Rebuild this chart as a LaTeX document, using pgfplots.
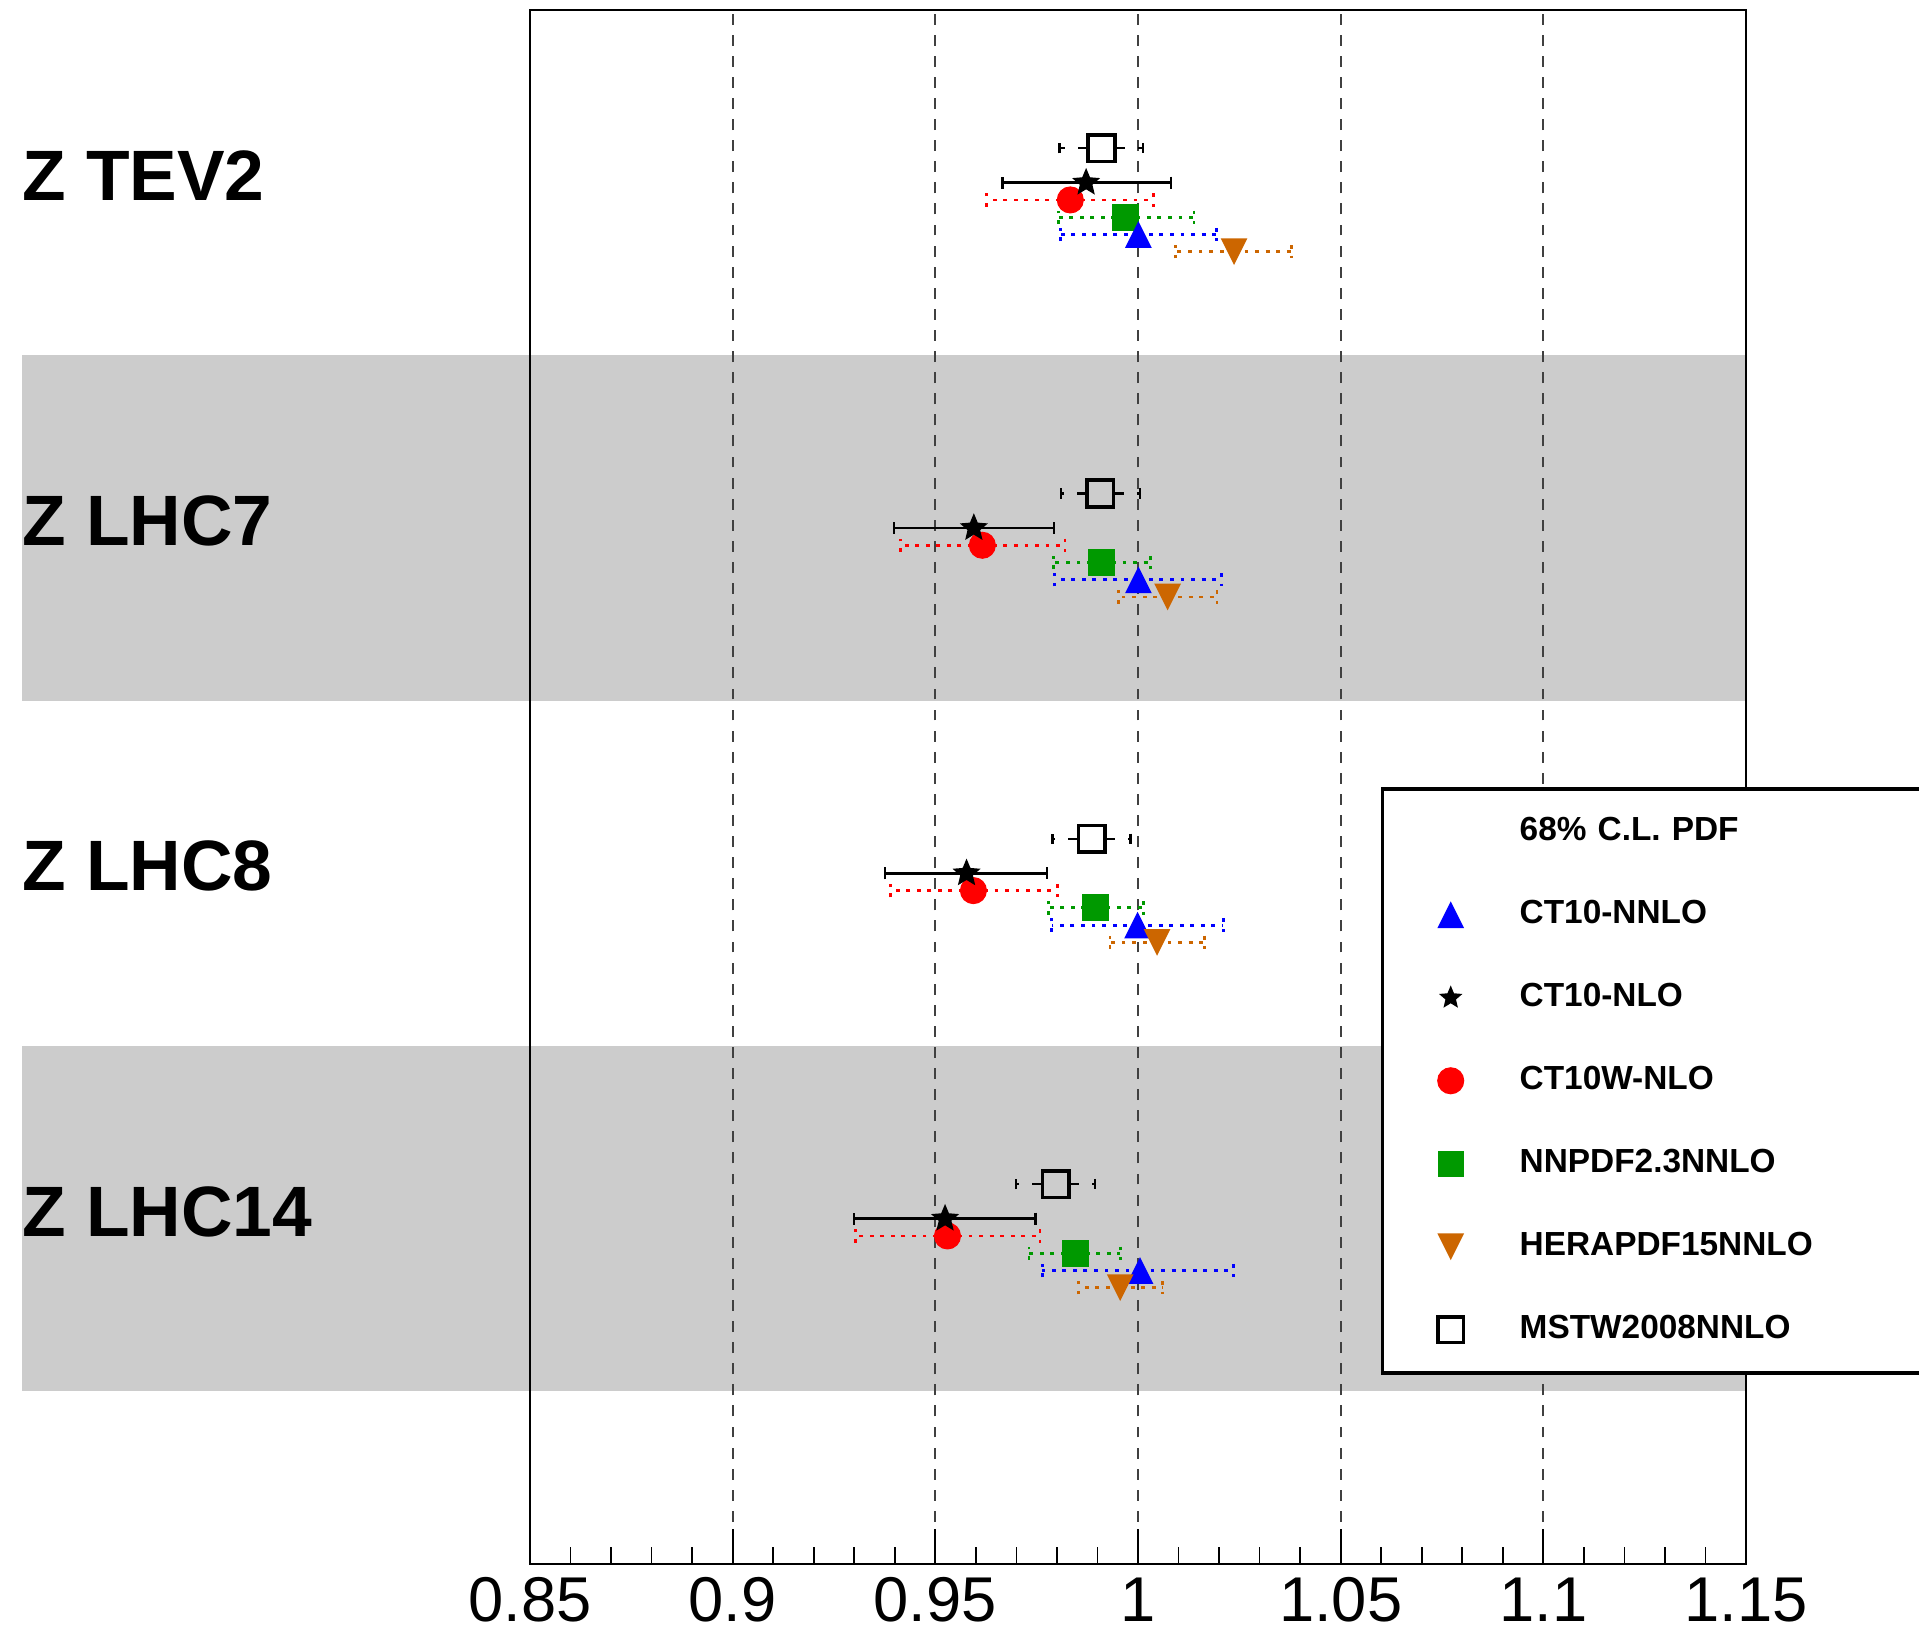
\documentclass[border=0pt]{standalone}
\usepackage{pgfplots}
\pgfplotsset{compat=1.18}
\usepackage{fontspec}
\setmainfont{Liberation Sans}
\definecolor{bandgray}{RGB}{204,204,204}
\definecolor{rgreen}{RGB}{0,153,0}
\definecolor{rorange}{RGB}{204,102,0}
\pgfdeclareplotmark{fstar}{%
  \pgfpathmoveto{\pgfqpointpolar{90}{\pgfplotmarksize}}%
  \pgfpathlineto{\pgfqpointpolar{126}{0.45\pgfplotmarksize}}%
  \pgfpathlineto{\pgfqpointpolar{162}{\pgfplotmarksize}}%
  \pgfpathlineto{\pgfqpointpolar{198}{0.45\pgfplotmarksize}}%
  \pgfpathlineto{\pgfqpointpolar{234}{\pgfplotmarksize}}%
  \pgfpathlineto{\pgfqpointpolar{270}{0.45\pgfplotmarksize}}%
  \pgfpathlineto{\pgfqpointpolar{306}{\pgfplotmarksize}}%
  \pgfpathlineto{\pgfqpointpolar{342}{0.45\pgfplotmarksize}}%
  \pgfpathlineto{\pgfqpointpolar{18}{\pgfplotmarksize}}%
  \pgfpathlineto{\pgfqpointpolar{54}{0.45\pgfplotmarksize}}%
  \pgfpathclose\pgfusepathqfill}
\pgfdeclareplotmark{utri}{%
  \pgfpathmoveto{\pgfqpoint{0pt}{\pgfplotmarksize}}%
  \pgfpathlineto{\pgfqpoint{-\pgfplotmarksize}{-\pgfplotmarksize}}%
  \pgfpathlineto{\pgfqpoint{\pgfplotmarksize}{-\pgfplotmarksize}}%
  \pgfpathclose\pgfusepathqfill}
\pgfdeclareplotmark{dtri}{%
  \pgfpathmoveto{\pgfqpoint{0pt}{-\pgfplotmarksize}}%
  \pgfpathlineto{\pgfqpoint{-\pgfplotmarksize}{\pgfplotmarksize}}%
  \pgfpathlineto{\pgfqpoint{\pgfplotmarksize}{\pgfplotmarksize}}%
  \pgfpathclose\pgfusepathqfill}
\pgfplotsset{
  dotbars/.style={error bars/.cd, x dir=both, x explicit, error mark=|,
    error bar style={#1, solid, line width=0.8pt, dash pattern=on 1.1pt off 1.9pt},
    error mark options={#1, line width=0.8pt, dash pattern=on 1.1pt off 1.9pt, mark size=1.9pt}},
}
\begin{document}
\begin{tikzpicture}
\begin{axis}[
  at={(5.30cm,0.69cm)}, anchor=south west,
  scale only axis, width=12.16cm, height=15.54cm,
  xmin=0.85, xmax=1.15, ymin=0, ymax=4.5,
  clip=false, set layers,
  axis line style={line width=0.8pt},
  xtick={0.85,0.9,0.95,1,1.05,1.1,1.15},
  xticklabels={0.85,0.9,0.95,1,1.05,1.1,1.15},
  minor x tick num=4,
  ytick=\empty,
  xtick pos=left,
  tick align=inside,
  major tick length=0.35cm, minor tick length=0.17cm,
  every tick/.style={line width=0.5pt, black},
  xmajorgrids,
  major grid style={black!75, line width=0.6pt, dash pattern=on 3.1pt off 2.9pt},
  xticklabel style={font=\fontsize{18}{20}\selectfont, inner sep=0pt, yshift=-0.13cm, anchor=north},
  legend cell align=left,
  legend image code/.code={\path[draw=none, fill=none] (-0.3cm,-0.2cm) rectangle (0.3cm,0.2cm); \draw[#1] plot coordinates {(0cm,0cm)};},
  legend style={at={(0.6998,0.5)}, anchor=north west, draw=black, line width=1pt, fill=white,
    inner xsep=0.38cm, inner ysep=0.015cm, row sep=0pt,
    font=\bfseries\fontsize{9.5}{11}\selectfont,
    /tikz/every odd column/.append style={column sep=0.39cm},
    nodes={inner sep=0pt, minimum height=0.83cm, text width=5cm, anchor=west}},
]
\begin{pgfonlayer}{axis background}
\fill[bandgray] (axis cs:0.7247,2.5) rectangle (axis cs:1.15,3.5);
\fill[bandgray] (axis cs:0.7247,0.5) rectangle (axis cs:1.15,1.5);
\end{pgfonlayer}

\node[anchor=west, inner sep=0pt, font=\bfseries\fontsize{20.3}{22}\selectfont] at (axis cs:0.7247,4.02) {Z TEV2};
\node[anchor=west, inner sep=0pt, font=\bfseries\fontsize{20.3}{22}\selectfont] at (axis cs:0.7247,3.02) {Z LHC7};
\node[anchor=west, inner sep=0pt, font=\bfseries\fontsize{20.3}{22}\selectfont] at (axis cs:0.7247,2.02) {Z LHC8};
\node[anchor=west, inner sep=0pt, font=\bfseries\fontsize{20.3}{22}\selectfont] at (axis cs:0.7247,1.02) {Z LHC14};

% CT10W-NLO (circle)
\addplot[only marks, red, mark=*, mark size=3.7pt, mark options={solid, line width=0.3pt}, forget plot, dotbars=red]
table[x=x, y=y, x error plus=ep, x error minus=em] {
x y ep em
0.9833 3.95 0.0205 0.0206
0.9616 2.95 0.0204 0.0201
0.9594 1.95 0.0207 0.0204
0.9530 0.95 0.0228 0.0227
};
% NNPDF2.3NNLO (square)
\addplot[only marks, rgreen, mark=square*, mark size=3.7pt, mark options={solid, line width=0.3pt}, forget plot, dotbars=rgreen]
table[x=x, y=y, x error plus=ep, x error minus=em] {
x y ep em
0.9970 3.90 0.0168 0.0167
0.9910 2.90 0.0120 0.0119
0.9896 1.90 0.0117 0.0117
0.9845 0.90 0.0111 0.0114
};
% CT10-NNLO (triangle)
\addplot[only marks, blue, mark=utri, mark size=3.8pt, mark options={solid}, forget plot, dotbars=blue]
table[x=x, y=y, x error plus=ep, x error minus=em] {
x y ep em
1.0001 3.85 0.0193 0.0193
1.0001 2.85 0.0205 0.0208
0.9999 1.85 0.0211 0.0212
1.0005 0.85 0.0230 0.0241
};
% HERAPDF15NNLO (inverted triangle)
\addplot[only marks, rorange, mark=dtri, mark size=3.8pt, mark options={solid}, forget plot, dotbars=rorange]
table[x=x, y=y, x error plus=ep, x error minus=em] {
x y ep em
1.0237 3.80 0.0142 0.0144
1.0073 2.80 0.0122 0.0122
1.0047 1.80 0.0118 0.0116
0.9956 0.80 0.0105 0.0102
};
% CT10-NLO (star)
\addplot[only marks, black, mark=fstar, mark size=4.2pt, mark options={solid}, forget plot,
  error bars/.cd, x dir=both, x explicit, error mark=|,
  error bar style={black, solid, line width=0.7pt},
  error mark options={black, solid, line width=0.7pt, mark size=1.7pt}]
table[x=x, y=y, x error plus=ep, x error minus=em] {
x y ep em
0.9872 4.00 0.0209 0.0206
0.9595 3.00 0.0198 0.0197
0.9577 2.00 0.0199 0.0201
0.9524 1.00 0.0223 0.0225
};
% MSTW2008NNLO (open square), white background groups
\addplot[only marks, black, mark=square*, mark size=3.8pt, mark options={solid, fill=white, line width=1pt}, forget plot,
  error bars/.cd, x dir=both, x explicit, error mark=|,
  error bar style={black, line width=0.7pt, dash pattern=on 6.7pt off 3.7pt},
  error mark options={black, solid, line width=0.7pt, mark size=1.5pt}]
table[x=x, y=y, x error plus=ep, x error minus=em] {
x y ep em
0.9910 4.10 0.0102 0.0104
0.9886 2.10 0.0096 0.0097
};
% MSTW2008NNLO (open square), gray band groups
\addplot[only marks, black, mark=square*, mark size=3.8pt, mark options={solid, fill=bandgray, line width=1pt}, forget plot,
  error bars/.cd, x dir=both, x explicit, error mark=|,
  error bar style={black, line width=0.7pt, dash pattern=on 6.7pt off 3.7pt},
  error mark options={black, solid, line width=0.7pt, mark size=1.5pt}]
table[x=x, y=y, x error plus=ep, x error minus=em] {
x y ep em
0.9907 3.10 0.0098 0.0097
0.9797 1.10 0.0097 0.0098
};

\addlegendimage{empty legend}
\addlegendentry{68\% C.L. PDF}
\addlegendimage{only marks, blue, mark=utri, mark size=3.8pt}
\addlegendentry{CT10-NNLO}
\addlegendimage{only marks, black, mark=fstar, mark size=3.5pt}
\addlegendentry{CT10-NLO}
\addlegendimage{only marks, red, mark=*, mark size=3.7pt, mark options={line width=0.3pt}}
\addlegendentry{CT10W-NLO}
\addlegendimage{only marks, rgreen, mark=square*, mark size=3.6pt, mark options={line width=0.3pt}}
\addlegendentry{NNPDF2.3NNLO}
\addlegendimage{only marks, rorange, mark=dtri, mark size=3.8pt}
\addlegendentry{HERAPDF15NNLO}
\addlegendimage{only marks, black, mark=square, mark size=3.6pt, mark options={line width=1pt}}
\addlegendentry{MSTW2008NNLO}
\end{axis}
\pgfresetboundingbox
\useasboundingbox (0,0) rectangle (19.19cm,16.33cm);
\end{tikzpicture}
\end{document}
